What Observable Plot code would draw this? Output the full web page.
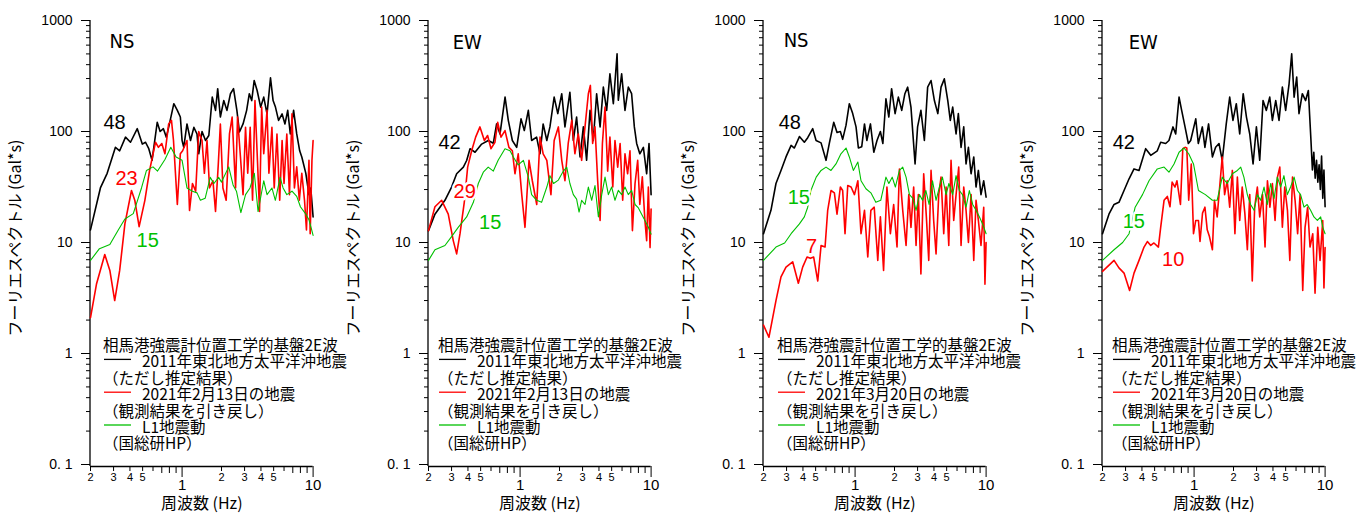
<!DOCTYPE html>
<html><head><meta charset="utf-8">
<script src="https://cdn.jsdelivr.net/npm/d3@7"></script>
<script src="https://cdn.jsdelivr.net/npm/@observablehq/plot@0.6"></script>
<style>
body{margin:0;background:#fff;}
#wrap{position:relative;width:1366px;height:517px;overflow:hidden;background:#fff;}
#wrap svg{position:absolute;top:0;overflow:visible;}
</style></head><body><div id="wrap"></div>
<script>
// ---------- Panel 1: NS, 2021-02-13 ----------
const p1KF = [0.2,0.238,0.268,0.31,0.334,0.37,0.404,0.455,0.497,0.526,0.557,0.59,0.646,0.68,0.72,0.758,0.79,0.865,0.92,0.97,1.0,1.03,1.09,1.16,1.23,1.3,1.34,1.42,1.51,1.6,1.7,1.8,1.87,1.96,2.08,2.2,2.34,2.47,2.62,2.74,2.92,3.11,3.26,3.4,3.55,3.74,3.98,4.2,4.45,4.73,4.95,5.16,5.45,5.8,6.1,6.4,6.7,7.1,7.5,7.9,8.2,8.8,9.3,9.6,10];
const p1KV = [13,31,42,72,67,89,80,106,77,80,70,55,121,100,106,89,109,178,155,135,83,72,117,83,109,95,63,100,83,92,204,155,243,135,190,155,219,243,155,99,117,155,219,190,288,234,166,204,144,305,190,166,126,144,117,155,95,155,95,67,59,42,27,31,17];
const p1RF = [0.2,0.222,0.257,0.281,0.306,0.334,0.366,0.411,0.436,0.47,0.52,0.565,0.627,0.66,0.7,0.74,0.79,0.83,0.86,0.92,0.97,1.01,1.09,1.14,1.2,1.27,1.34,1.42,1.48,1.55,1.62,1.72,1.8,1.89,1.96,2.05,2.17,2.3,2.41,2.56,2.65,2.79,2.92,3.05,3.17,3.31,3.45,3.6,3.76,3.9,4.05,4.2,4.45,4.6,4.85,5.05,5.3,5.56,5.8,6.0,6.3,6.6,6.9,7.2,7.5,7.85,8.2,8.6,8.9,9.3,9.5,9.8,10];
const p1RV = [2.1,4.2,7.8,5.6,3.0,5.6,14.7,29.4,23.9,13.9,24,44.6,80,72,78,63,117,126,83,22,63,67,83,19.4,34,29,100,83,42,83,31,36,19,51,117,31,24,95,135,31,135,59,27,109,42,109,24,190,55,19,166,63,155,42,109,31,95,24,83,34,95,27,144,31,48,24,42,24,13,55,12,55,83];
const p1GF = [0.2,0.234,0.281,0.325,0.366,0.424,0.49,0.535,0.6,0.65,0.74,0.82,0.9,1.0,1.09,1.2,1.3,1.38,1.5,1.64,1.75,1.9,2.0,2.27,2.45,2.6,2.81,3.05,3.3,3.56,3.8,4.2,4.45,4.85,5.15,5.6,5.9,6.3,6.9,7.5,8.0,8.8,9.3,9.6,10];
const p1GV = [6.9,8.8,9.6,12.9,16.3,18.2,31,44.6,48,44,56,72,59,55,31,29,28,24,25,38.6,34,38.6,35,48,33,29,18.6,27,31,42,19,36,27,31,24,38.6,31,27,29,26,21,18,16,14,11.6];
const p1Notes = [["48",0.251,106,"black"],["23",0.31,33.3,"red"],["15",0.449,9.2,"green"]];

// ---------- Panel 2: EW, 2021-02-13 ----------
const p2KF = [0.2,0.224,0.267,0.3,0.328,0.369,0.391,0.415,0.453,0.509,0.572,0.625,0.662,0.703,0.768,0.813,0.873,0.942,1.017,1.077,1.156,1.225,1.337,1.42,1.5,1.6,1.69,1.82,1.94,2.08,2.2,2.4,2.55,2.7,2.87,3.04,3.22,3.42,3.62,3.84,4.08,4.32,4.58,4.85,5.15,5.5,5.62,5.96,6.32,6.7,7.1,7.45,7.76,8.2,8.73,9.25,9.64,10];
const p2KV = [12.8,18,24,31.6,41.6,47.8,54.8,70,65,77,83,78.5,117,95,204,126,83,72,130,102,155,83,89,63,117,83,110,204,145,219,110,226,83,135,59,110,55,155,83,219,110,251,155,331,178,500,191,331,155,251,219,110,78,63,72,41.6,78,27];
const p2RF = [0.2,0.224,0.252,0.283,0.309,0.328,0.348,0.375,0.398,0.427,0.458,0.494,0.534,0.565,0.6,0.643,0.675,0.715,0.767,0.822,0.873,0.914,0.968,1.03,1.09,1.17,1.24,1.34,1.42,1.5,1.6,1.72,1.82,1.96,2.08,2.2,2.33,2.48,2.62,2.78,2.95,3.13,3.32,3.44,3.58,3.73,3.91,4.08,4.25,4.45,4.66,4.85,5.1,5.3,5.56,5.8,6.07,6.32,6.62,6.9,7.2,7.54,7.9,8.2,8.57,8.97,9.25,9.53,9.82,10];
const p2RV = [12.8,21,24,18,10.4,7.9,12,23,47.8,67,89,110,83,92,70,80,121,89,102,72,67,41.6,63,27,13.7,55,36,22,89,63,55,27,83,110,55,36,78,126,63,95,55,110,219,260,78,110,36,15.8,78,166,44,89,31.6,83,47.8,78,24,63,41.6,67,12.8,34,55,22,39,15.8,10.4,31.6,9,20];
const p2GF = [0.2,0.224,0.267,0.3,0.337,0.391,0.44,0.48,0.524,0.571,0.625,0.68,0.767,0.838,0.888,0.968,1.06,1.156,1.225,1.34,1.46,1.6,1.69,1.8,1.96,2.14,2.27,2.4,2.55,2.7,2.82,2.95,3.13,3.32,3.52,3.73,3.96,4.2,4.45,4.72,5.0,5.3,5.62,5.96,6.32,6.7,7.1,7.54,8.0,8.47,8.97,9.53,10];
const p2GV = [6.9,8.6,9.4,11.3,13.7,17,23,34,43,47.8,44,55,70,67,59,50,55,38.8,27,24,23,31.6,40,34,36.5,44,47.8,34,27,24.6,18.8,24,22,31.6,24,32.6,17,27,38.8,27,31.6,24,29.5,27,31.6,27,29.5,22,20.5,18,15.8,13.7,11.9];
const p2Notes = [["42",0.238,68.9,"black"],["29",0.311,25.4,"red"],["15",0.486,13.1,"green"]];

// ---------- Panel 3: NS, 2021-03-20 ----------
const p3KF = [0.2,0.228,0.249,0.272,0.297,0.325,0.344,0.376,0.41,0.435,0.475,0.504,0.55,0.6,0.637,0.687,0.728,0.772,0.804,0.853,0.904,0.959,1.017,1.06,1.124,1.18,1.23,1.31,1.39,1.47,1.56,1.63,1.72,1.81,1.9,2.02,2.14,2.27,2.4,2.52,2.67,2.87,3.0,3.18,3.38,3.58,3.8,4.03,4.28,4.53,4.8,5.1,5.33,5.56,5.9,6.14,6.44,6.75,7.03,7.33,7.68,8.05,8.38,8.73,9.14,9.59,10];
const p3KV = [12,19.5,34,44.6,59,75,71,90,80,88,106,83,79,55,79,121,98,100,85,114,178,145,110,71,73,117,83,117,65,83,100,78,197,135,243,145,204,155,219,251,166,51,110,155,83,251,288,190,145,251,298,190,126,166,95,145,72,110,51,72,41.6,59,31.6,44.6,27,36,25.6];
const p3RF = [0.2,0.22,0.249,0.272,0.297,0.334,0.369,0.398,0.43,0.456,0.483,0.519,0.55,0.59,0.618,0.655,0.695,0.728,0.772,0.804,0.838,0.879,0.932,0.989,1.05,1.11,1.18,1.25,1.32,1.4,1.49,1.56,1.65,1.75,1.86,1.97,2.09,2.18,2.31,2.45,2.57,2.67,2.8,2.92,3.04,3.18,3.34,3.5,3.65,3.8,3.98,4.15,4.35,4.53,4.75,4.95,5.19,5.4,5.66,5.9,6.18,6.44,6.75,7.03,7.33,7.68,8.05,8.38,8.73,9.14,9.59,9.8,10];
const p3RV = [1.8,1.4,3.0,4.9,6.0,6.7,4.3,6.0,7.4,7.2,7.4,4.5,9.4,9.1,19.5,29.4,28,18,31.6,29.4,12,32.6,31.6,27,36,12,19.5,7.4,19.5,20.8,6.9,17,5.6,31.6,12,22,9.1,46,19.5,9.4,27,13.7,31.6,9.4,27,5.2,41.6,17,6.9,44.6,15.8,7.9,27,38.8,12,31.6,9.4,55,15.8,27,47.8,9.4,31.6,19.5,10,27,6.9,24,15.8,9.4,20.8,4.2,10];
const p3GF = [0.2,0.249,0.29,0.325,0.376,0.41,0.435,0.46,0.505,0.55,0.6,0.655,0.715,0.78,0.853,0.904,0.97,1.05,1.11,1.21,1.32,1.44,1.57,1.72,1.81,1.92,2.03,2.18,2.31,2.45,2.6,2.76,2.92,3.1,3.27,3.47,3.67,3.9,4.15,4.4,4.64,4.95,5.2,5.56,5.9,6.25,6.6,7.03,7.45,7.9,8.38,8.9,9.4,10];
const p3GV = [6.9,9.1,9.9,12,14.7,17,20.8,29.4,38.8,44.6,47.8,44.6,51,63,71,59,44.6,53,36,30.5,28,23,24,38.8,34,38.8,31.6,44.6,47.8,38.8,27,25,19.5,27,24,29.4,22,36,24,31.6,38.8,27,34,27,40,29.4,27,20.8,29.4,22,19.5,17,14.7,12];
const p3Notes = [["48",0.261,106,"black"],["15",0.306,22,"green"],["7",0.422,8.1,"red"]];

// ---------- Panel 4: EW, 2021-03-20 ----------
const p4KF = [0.2,0.224,0.245,0.267,0.292,0.319,0.348,0.38,0.427,0.467,0.524,0.556,0.607,0.643,0.69,0.724,0.768,0.804,0.853,0.904,0.942,1.03,1.077,1.156,1.21,1.29,1.38,1.46,1.55,1.64,1.76,1.87,1.98,2.1,2.23,2.37,2.51,2.66,2.82,2.99,3.17,3.36,3.56,3.78,3.96,4.2,4.45,4.72,5.0,5.31,5.56,5.8,6.07,6.32,6.7,7.1,7.45,7.8,8.0,8.2,8.4,8.6,8.8,9.0,9.2,9.4,9.6,9.8,10];
const p4KV = [12,18,22,23,29.4,37.5,46,44.6,70,61,67,80,78,83,110,95,204,155,110,78,83,130,78,110,72,117,59,72,78,55,117,204,126,178,95,219,135,95,51,110,55,190,155,204,126,190,126,251,155,269,500,204,309,145,219,190,234,83,45,65,38,55,35,50,30,60,25,45,21];
const p4RF = [0.2,0.245,0.267,0.292,0.322,0.348,0.38,0.415,0.44,0.467,0.494,0.534,0.556,0.59,0.625,0.655,0.68,0.715,0.74,0.787,0.82,0.853,0.88,0.91,0.952,0.99,1.03,1.08,1.11,1.16,1.21,1.26,1.31,1.38,1.43,1.5,1.56,1.64,1.71,1.79,1.87,1.96,2.05,2.14,2.23,2.33,2.44,2.55,2.66,2.78,2.9,3.04,3.17,3.33,3.48,3.63,3.79,3.96,4.15,4.33,4.51,4.72,4.92,5.16,5.38,5.64,5.9,6.17,6.44,6.75,7.03,7.36,7.67,8.05,8.38,8.79,9.15,9.59,9.8,10];
const p4RV = [5.5,6.9,5.9,5.3,3.7,5.3,6.9,9.1,10.2,9.4,9.9,9.1,13.7,24,26,21,35,31.6,36,22,70,72,71,24,51,12,15.8,15.8,10.2,18.4,20.8,13,11.3,8.6,24,17,29.4,59,27,36,20.8,44.6,12,38.8,15.8,31.6,18.4,8.6,27,4.5,20.8,31.6,17,27,9.1,36,20.8,34,15.8,38.8,47.8,13.7,31.6,19.5,6.9,38.8,24,12,27,3.7,13.7,20.8,9.1,12,3.5,13.7,6.9,15.8,3.9,9];
const p4GF = [0.2,0.245,0.285,0.319,0.355,0.404,0.453,0.524,0.59,0.643,0.703,0.768,0.837,0.91,0.99,1.08,1.22,1.38,1.5,1.64,1.79,1.96,2.14,2.27,2.4,2.55,2.7,2.87,3.04,3.22,3.42,3.62,3.84,4.08,4.32,4.58,4.85,5.15,5.45,5.8,6.15,6.5,6.9,7.3,7.75,8.22,8.73,9.25,9.6,10];
const p4GV = [6.9,8.6,10,12,20.8,27,36,46,47.8,43,51,65,71,63,51,29.4,27,24,24,38.8,34,41.6,44.6,47.8,38.8,27,22,19.5,27,24,31.6,22,34,25,38.8,31.6,40,27,31.6,38.8,29.4,27,20.8,22,19.5,17,15.8,17,13.7,12];
const p4Notes = [["42",0.239,68.9,"black"],["15",0.285,13.4,"green"],["10",0.57,6.2,"red"]];

// ---------- shared texts ----------
const components = ["NS","EW","NS","EW"];
const compPos = [[0.279,571],[0.306,559],[0.285,583],[0.317,548]];
const eventNames = ["2021年2月13日の地震","2021年2月13日の地震","2021年3月20日の地震","2021年3月20日の地震"];
const legendTitle = "相馬港強震計位置工学的基盤2E波";
const legendRows = ["2011年東北地方太平洋沖地震","（ただし推定結果）","","（観測結果を引き戻し）","L1地震動","（国総研HP）"];
const xTitle = "周波数 (Hz)";
const yTitle = "フーリエスペクトル (Gal*s)";
const yMajor = [0.1,1,10,100,1000];
const xLabeled = [0.2,0.3,0.4,0.5,0.6,2,3,4,5,6];
const xUnlabeled = [0.7,0.8,0.9,7,8,9];
const xMajor = [1,10];

const COLORS = {black:"#000000", red:"#ff0000", green:"#00c000"};
const panels = [
  {K:[p1KF,p1KV],R:[p1RF,p1RV],G:[p1GF,p1GV],notes:p1Notes,left:0,legX:103},
  {K:[p2KF,p2KV],R:[p2RF,p2RV],G:[p2GF,p2GV],notes:p2Notes,left:337.5,legX:100},
  {K:[p3KF,p3KV],R:[p3RF,p3RV],G:[p3GF,p3GV],notes:p3Notes,left:672.5,legX:104},
  {K:[p4KF,p4KV],R:[p4RF,p4RV],G:[p4GF,p4GV],notes:p4Notes,left:1011.5,legX:100}
];
const yMinor = d3.range(-1,3).flatMap(e => d3.range(2,10).map(m => +(m*Math.pow(10,e)).toPrecision(3)));
const rows = ([F,V]) => F.map((f,i) => ({f, v: V[i]}));
const JP = "'Noto Sans CJK JP', sans-serif";
const wrap = document.getElementById("wrap");

panels.forEach((p, i) => {
  const notes = p.notes.map(([t,f,v,c]) => ({t,f,v,c}));
  const svg = Plot.plot({
    width: 340, height: 517,
    marginLeft: 90, marginRight: 27.4, marginTop: 20, marginBottom: 53,
    style: {overflow: "visible", background: "transparent", fontFamily: "'Liberation Sans', Arial, sans-serif", color: "#000"},
    x: {type: "log", domain: [0.2, 10]},
    y: {type: "log", domain: [0.1, 1000]},
    marks: [
      Plot.axisY({ticks: yMajor, tickSize: 9, tickPadding: 9, fontSize: 14, label: null,
        tickFormat: d => d === 0.1 ? "0. 1" : String(d)}),
      Plot.axisY({ticks: yMinor, tickSize: 4, tickFormat: () => "", label: null}),
      Plot.axisX({ticks: xLabeled, dy: 2, tickSize: 5, tickPadding: 2, fontSize: 11, label: null,
        tickFormat: d => String(d < 1 ? Math.round(d*10) : d)}),
      Plot.axisX({ticks: xUnlabeled, dy: 2, tickSize: 7, tickFormat: () => "", label: null}),
      Plot.axisX({ticks: xMajor, dy: 2, tickSize: 11, tickPadding: 2, fontSize: 15, label: null, tickFormat: d => String(d)}),
      Plot.ruleX([0.2], {insetBottom: -2, dx: -0.5, stroke: "#000", strokeWidth: 1.3}),
      Plot.ruleY([0.1], {dy: 2, stroke: "#000", strokeWidth: 1.3}),
      Plot.line(rows(p.K), {x: "f", y: "v", stroke: COLORS.black, strokeWidth: 1.6}),
      Plot.line(rows(p.R), {x: "f", y: "v", stroke: COLORS.red, strokeWidth: 1.6}),
      Plot.line(rows(p.G), {x: "f", y: "v", stroke: COLORS.green, strokeWidth: 1.1}),
      Plot.text(notes, {x: "f", y: "v", text: "t", fill: d => COLORS[d.c], textAnchor: "start", lineAnchor: "bottom",
        fontSize: 20, stroke: "white", strokeWidth: 5, fontFamily: "'Liberation Sans', Arial, sans-serif"}),
      Plot.text([{t: components[i], f: compPos[i][0], v: compPos[i][1]}], {x: "f", y: "v", text: "t", textAnchor: "start", lineAnchor: "bottom",
        fontSize: 20, fill: "#000", fontFamily: "'Liberation Sans Narrow', 'DejaVu Sans Condensed', sans-serif"}),
      Plot.text([xTitle], {frameAnchor: "bottom", dy: 44, fontSize: 16, fontFamily: JP, fill: "#000"}),
      Plot.text([yTitle], {frameAnchor: "left", textAnchor: "middle", dx: -75, dy: -4.5, rotate: -90, fontSize: 16, fontFamily: JP, fill: "#000"})
    ]
  });
  svg.style.left = p.left + "px";
  // legend block
  const g = d3.select(svg).append("g").attr("font-family", JP).attr("font-size", 15.5).attr("fill", "#000").attr("text-anchor", "start");
  const lx = p.legX, y0 = 344, dyL = 16.4;
  g.append("text").attr("x", lx).attr("y", y0).attr("dominant-baseline", "central").text(legendTitle);
  const lines = [[COLORS.black, legendRows[0], 1], [COLORS.red, eventNames[i], 3], [COLORS.green, legendRows[4], 5]];
  lines.forEach(([c, t, k]) => {
    const yy = y0 + dyL * k;
    g.append("line").attr("x1", lx + 1).attr("x2", lx + 28).attr("y1", yy - 1).attr("y2", yy - 1).attr("stroke", c).attr("stroke-width", 1.3);
    g.append("text").attr("x", lx + 39).attr("y", yy).attr("dominant-baseline", "central").text(t);
  });
  [[legendRows[1], 2], [legendRows[3], 4], [legendRows[5], 6]].forEach(([t, k]) => {
    g.append("text").attr("x", lx).attr("y", y0 + dyL * k).attr("dominant-baseline", "central").text(t);
  });
  wrap.appendChild(svg);
});
</script></body></html>
